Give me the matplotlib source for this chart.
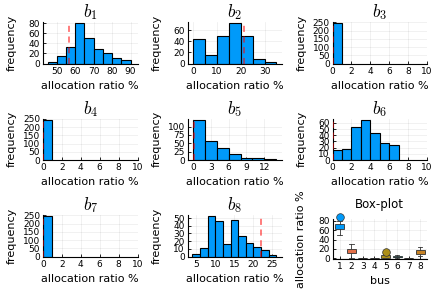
import matplotlib
matplotlib.use("Agg")
import matplotlib.pyplot as plt
import numpy as np

plt.rcParams.update({
    "font.family": "DejaVu Sans",
    "mathtext.fontset": "cm",
    "axes.linewidth": 0.8,
    "xtick.direction": "in",
    "ytick.direction": "in",
    "xtick.major.size": 2.5,
    "ytick.major.size": 2.5,
    "xtick.major.width": 0.6,
    "ytick.major.width": 0.6,
    "xtick.labelsize": 6.5,
    "ytick.labelsize": 6.5,
    "xtick.major.pad": 2.5,
    "ytick.major.pad": 2,
})

# ---- Data ---------------------------------------------------------------
B1_EDGES = [45, 50, 55, 60, 65, 70, 75, 80, 85, 90]
B1_COUNTS = [2, 14, 32, 81, 51, 29, 20, 10, 6]
B1_LINE = 56.5

B2_EDGES = [0, 5, 10, 15, 20, 25, 30, 35]
B2_COUNTS = [45, 16, 50, 73, 49, 9, 3]
B2_LINE = 21.5

B3_EDGES = [0, 1]
B3_COUNTS = [245]
B3_LINE = 0.0

B4_EDGES = [0, 1]
B4_COUNTS = [245]
B4_LINE = 0.0

B5_EDGES = [0, 2, 4, 6, 8, 10, 12, 14]
B5_COUNTS = [119, 57, 36, 19, 7, 5, 2]
B5_LINE = 0.2

B6_EDGES = [0, 1, 2, 3, 4, 5, 6, 7]
B6_COUNTS = [16, 17, 53, 65, 43, 27, 24]
B6_LINE = 0.0

B7_EDGES = [0, 1]
B7_COUNTS = [245]
B7_LINE = 0.0

B8_EDGES = [4, 6, 8, 10, 12, 14, 16, 18, 20, 22, 24, 26]
B8_COUNTS = [3, 11, 53, 46, 16, 47, 27, 18, 13, 9, 2]
B8_LINE = 22.0

BUS = [1, 2, 3, 4, 5, 6, 7, 8]
BOX_LO = [50, 0, 0, 0, 0, 0, 0, 4]
BOX_Q1 = [62, 11, 0, 0, 1, 2, 0, 9.5]
BOX_MED = [67, 15, 0, 0, 3, 3.5, 0, 14]
BOX_Q3 = [74, 20, 0.5, 0.5, 6, 5, 0.5, 17.5]
BOX_HI = [80, 31, 1, 1, 9, 7, 1, 24]
BOX_FLIERS = [[88], [], [], [], [12.5], [], [], []]

PALETTE = ["#009AFA", "#E36F47", "#3EA44E", "#C371D2",
           "#AC8E18", "#00A9AD", "#ED5E93", "#C68225"]

# (edges, counts, line, xlim, ylim, xticks, yticks)
PANELS = [
    (B1_EDGES, B1_COUNTS, B1_LINE, (42.5, 93.8), (0, 82), [50, 60, 70, 80, 90], [0, 20, 40, 60, 80]),
    (B2_EDGES, B2_COUNTS, B2_LINE, (-2.2, 37.3), (0, 75), [0, 10, 20, 30], [0, 20, 40, 60]),
    (B3_EDGES, B3_COUNTS, B3_LINE, (0, 10), (0, 252), [0, 2, 4, 6, 8, 10], [0, 50, 100, 150, 200, 250]),
    (B4_EDGES, B4_COUNTS, B4_LINE, (0, 10), (0, 252), [0, 2, 4, 6, 8, 10], [0, 50, 100, 150, 200, 250]),
    (B5_EDGES, B5_COUNTS, B5_LINE, (-0.95, 15.0), (0, 124), [0, 3, 6, 9, 12], [0, 25, 50, 75, 100]),
    (B6_EDGES, B6_COUNTS, B6_LINE, (0, 10), (0, 67), [0, 2, 4, 6, 8, 10], [0, 10, 20, 30, 40, 50, 60]),
    (B7_EDGES, B7_COUNTS, B7_LINE, (0, 10), (0, 252), [0, 2, 4, 6, 8, 10], [0, 50, 100, 150, 200, 250]),
    (B8_EDGES, B8_COUNTS, B8_LINE, (2.7, 27.5), (0, 54), [5, 10, 15, 20, 25], [0, 10, 20, 30, 40, 50]),
]

# ---- Figure -------------------------------------------------------------
W, H = 436, 291
fig = plt.figure(figsize=(W / 100, H / 100), dpi=100)

COL_X = [43, 187.5, 332.5]
ROW_TOP = [22, 118.5, 215]
AX_W, AX_H = 94.5, 41.5


def make_ax(left_px, top_px, h_px=AX_H):
    return fig.add_axes([left_px / W, 1 - (top_px + h_px) / H, AX_W / W, h_px / H])


def style(ax):
    ax.spines["top"].set_visible(False)
    ax.spines["right"].set_visible(False)
    ax.grid(True, color="#000000", alpha=0.08, linewidth=0.5)
    ax.set_axisbelow(True)


for i, (edges, counts, line, xlim, ylim, xt, yt) in enumerate(PANELS):
    ax = make_ax(COL_X[i % 3], ROW_TOP[i // 3])
    style(ax)
    e = np.asarray(edges, dtype=float)
    ax.bar(e[:-1], counts, width=np.diff(e), align="edge",
           color="#009AFA", edgecolor="black", linewidth=0.8, zorder=2)
    ax.axvline(line, color="red", linestyle=(0, (4, 3)), linewidth=1.1,
               alpha=0.65, zorder=3)
    ax.set_xlim(*xlim)
    ax.set_ylim(*ylim)
    ax.set_xticks(xt)
    ax.set_yticks(yt)
    ax.set_title(r"$b_{%d}$" % (i + 1), fontsize=12.5, pad=3)
    ax.set_xlabel("allocation ratio %", fontsize=8, labelpad=3.5)
    ax.set_ylabel("frequency", fontsize=8)
    ax.yaxis.set_label_coords(-26 / AX_W, 0.5)

# ---- Box-plot -----------------------------------------------------------
ax = make_ax(COL_X[2], 219, 40)
style(ax)
stats = []
for k in range(len(BUS)):
    stats.append(dict(whislo=BOX_LO[k], q1=BOX_Q1[k], med=BOX_MED[k],
                      q3=BOX_Q3[k], whishi=BOX_HI[k], fliers=BOX_FLIERS[k]))
bp = ax.bxp(stats, positions=BUS, widths=0.8, patch_artist=True,
            showfliers=True, manage_ticks=False,
            boxprops=dict(linewidth=0.6, edgecolor="#333333"),
            whiskerprops=dict(linewidth=0.6, color="#333333"),
            capprops=dict(linewidth=0.6, color="#333333"),
            medianprops=dict(linewidth=0.6, color="#333333"),
            capwidths=0.4)
for k, patch in enumerate(bp["boxes"]):
    patch.set_facecolor(PALETTE[k])
    patch.set_zorder(3)
for k, fl in enumerate(bp["fliers"]):
    fl.set_marker("o")
    fl.set_markersize(5.5)
    fl.set_markerfacecolor(PALETTE[k])
    fl.set_markeredgecolor("#333333")
    fl.set_markeredgewidth(0.5)
    fl.set_clip_on(False)
    fl.set_zorder(4)
ax.set_xlim(0.37, 8.6)
ax.set_ylim(-1.5, 84)
ax.set_xticks(BUS)
ax.set_yticks([0, 20, 40, 60, 80])
ax.set_title("Box-plot", fontsize=8.5, pad=8)
ax.set_xlabel("bus", fontsize=8, labelpad=3.5)
ax.set_ylabel("allocation ratio %", fontsize=8)
ax.yaxis.set_label_coords(-26 / AX_W, 0.5)

fig.savefig("out.png", dpi=100)
